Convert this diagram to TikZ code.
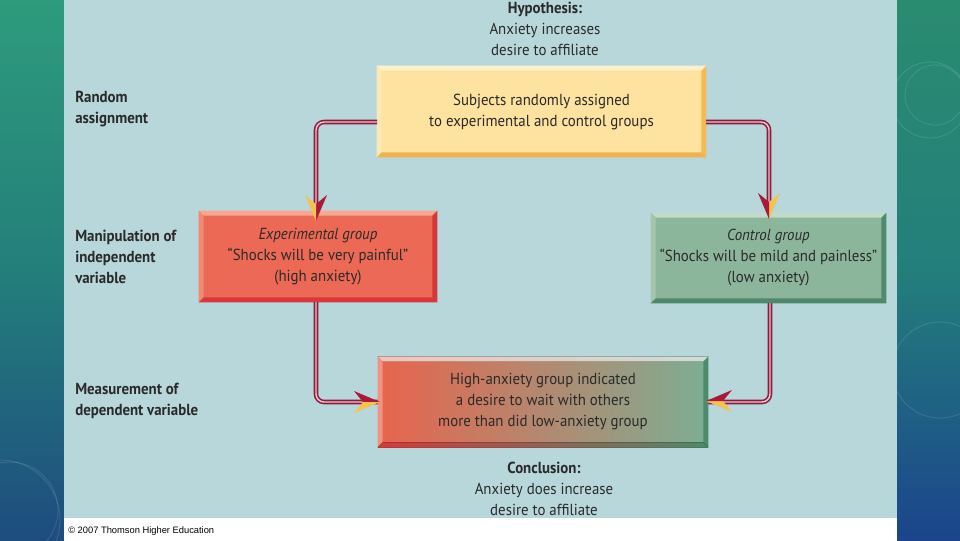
\documentclass[tikz,border=0pt]{standalone}
\usepackage{fontspec}
\setmainfont{PT Sans}[FakeStretch=0.93]
\newfontfamily\arialfont{Liberation Sans}
\usetikzlibrary{calc}
\definecolor{panel}{HTML}{B8D7DA}
\definecolor{txt}{HTML}{2A2A2A}
\definecolor{ymain}{HTML}{FDE2A0}
\definecolor{ytop}{HTML}{FFF0CC}
\definecolor{yleft}{HTML}{FCE8B5}
\definecolor{yright}{HTML}{F4BA55}
\definecolor{ybot}{HTML}{F1B24D}
\definecolor{emain}{HTML}{EC6A55}
\definecolor{etop}{HTML}{F8A890}
\definecolor{eleft}{HTML}{F28A72}
\definecolor{eright}{HTML}{D6373A}
\definecolor{ebot}{HTML}{D9383B}
\definecolor{cmain}{HTML}{8CB69B}
\definecolor{ctop}{HTML}{C2DBC8}
\definecolor{cleft}{HTML}{A5C5AD}
\definecolor{cright}{HTML}{4E8B6C}
\definecolor{cbot}{HTML}{4F896B}
\definecolor{bleft}{HTML}{E8644D}
\definecolor{bright}{HTML}{7DAE93}
\definecolor{conndark}{HTML}{8A1C3E}
\definecolor{conninner}{HTML}{EFC4CA}
\definecolor{ahred}{HTML}{A9193A}
\definecolor{ahyel}{HTML}{F3C24F}
\definecolor{sgreen}{HTML}{2E9B7C}
\definecolor{smid}{HTML}{237F7B}
\definecolor{sblue}{HTML}{1E4C7F}
\newlength\bevw
\setlength\bevw{3.75pt}
% bevel bands: #1 node, #2 top, #3 left, #4 right, #5 bottom
\newcommand\bevband[5]{%
  \fill[#2] (#1.north west) -- (#1.north east) -- ([xshift=-\bevw,yshift=-\bevw]#1.north east) -- ([xshift=\bevw,yshift=-\bevw]#1.north west) -- cycle;
  \fill[#3] (#1.north west) -- ([xshift=\bevw,yshift=-\bevw]#1.north west) -- ([xshift=\bevw,yshift=\bevw]#1.south west) -- (#1.south west) -- cycle;
  \fill[#4] (#1.north east) -- (#1.south east) -- ([xshift=-\bevw,yshift=\bevw]#1.south east) -- ([xshift=-\bevw,yshift=-\bevw]#1.north east) -- cycle;
  \fill[#5] (#1.south west) -- ([xshift=\bevw,yshift=\bevw]#1.south west) -- ([xshift=-\bevw,yshift=\bevw]#1.south east) -- (#1.south east) -- cycle;
}
% arrowhead: #1 tip, #2 rotation, #3 colour of half A, #4 colour of half B
\newcommand\ahd[4]{%
  \begin{scope}[shift={#1}, rotate=#2]
    \fill[#3] (0,0) -- (-26,-11) -- (-17,0) -- cycle;
    \fill[#4] (0,0) -- (-26,11) -- (-17,0) -- cycle;
  \end{scope}
}
\begin{document}
\begin{tikzpicture}[x=0.75pt, y=-0.75pt,
  every node/.style={text=txt, font=\fontsize{12}{15.75}\selectfont},
  boxtext/.style={inner sep=0pt, align=center, font=\fontsize{12}{15.75}\selectfont},
  lab/.style={inner sep=0pt, align=left, anchor=west, font=\bfseries\fontsize{12}{15.75}\selectfont},
  conn/.style={draw=conndark, line width=1.15pt, double=conninner, double distance=1.1pt, rounded corners=6pt}
]
\useasboundingbox (0,0) rectangle (960,540);
% side strips
\shade[top color=sgreen, bottom color=sblue, middle color=smid] (0,0) rectangle (64,540);
\shade[top color=sgreen!90!black, bottom color=sblue!90!blue, middle color=smid] (897,0) rectangle (960,540);
\begin{scope}[draw=white, opacity=0.13, line width=0.6pt]
  \draw (930,100) circle[radius=38];
  \draw (935,95) circle[radius=30];
  \draw (940,370) circle[radius=48];
  \draw (0,520) circle[radius=60];
  \draw (10,510) circle[radius=48];
\end{scope}
% panel
\fill[panel] (64,0) rectangle (897,518);
\fill[white] (64,518) rectangle (897,540);
\node[anchor=west, inner sep=0pt, font=\arialfont\fontsize{7}{8}\selectfont, text=black] (copy) at (68,531) {© 2007 Thomson Higher Education};

% boxes
\node[fill=ymain, minimum width=246.75pt, minimum height=68.25pt, inner sep=0pt] (top) at (541.5,111.5) {};
\bevband{top}{ytop}{yleft}{yright}{ybot}
\node[boxtext] (toptext) at (top.center) {Subjects randomly assigned\\to experimental and control groups};

\node[fill=emain, minimum width=178.5pt, minimum height=68.25pt, inner sep=0pt] (exp) at (318,256.5) {};
\bevband{exp}{etop}{eleft}{eright}{ebot}
\node[boxtext] (exptext) at (exp.center) {\textit{Experimental group}\\“Shocks will be very painful”\\(high anxiety)};

\node[fill=cmain, minimum width=176.25pt, minimum height=67.5pt, inner sep=0pt] (ctrl) at (768.5,258) {};
\bevband{ctrl}{ctop}{cleft}{cright}{cbot}
\node[boxtext] (ctrltext) at (ctrl.center) {\textit{Control group}\\“Shocks will be mild and painless”\\(low anxiety)};

\node[left color=bleft, right color=bright, minimum width=247.5pt, minimum height=67.5pt, inner sep=0pt] (bot) at (543,402) {};
\fill[left color=bleft!40!white, right color=bright!40!white] (bot.north west) -- (bot.north east) -- ([xshift=-\bevw,yshift=-\bevw]bot.north east) -- ([xshift=\bevw,yshift=-\bevw]bot.north west) -- cycle;
\fill[bleft!70!white] (bot.north west) -- ([xshift=\bevw,yshift=-\bevw]bot.north west) -- ([xshift=\bevw,yshift=\bevw]bot.south west) -- (bot.south west) -- cycle;
\fill[cright] (bot.north east) -- (bot.south east) -- ([xshift=-\bevw,yshift=\bevw]bot.south east) -- ([xshift=-\bevw,yshift=-\bevw]bot.north east) -- cycle;
\fill[left color=ebot, right color=cbot] (bot.south west) -- ([xshift=\bevw,yshift=\bevw]bot.south west) -- ([xshift=-\bevw,yshift=\bevw]bot.south east) -- (bot.south east) -- cycle;
\node[boxtext] (bottext) at (bot.center) {High-anxiety group indicated\\a desire to wait with others\\more than did low-anxiety group};

% connectors
\coordinate (tl) at (377,122);
\coordinate (tr) at (706,122);
\coordinate (el) at (316,302);
\coordinate (cl) at (770,303);
\draw[conn] (tl) -- (316,122) -- (316,212);
\draw[conn] (tr) -- (769,122) -- (769,212);
\draw[conn] (el) -- (316,402) -- (bot.west);
\draw[conn] (cl) -- (770,402) -- (bot.east);
\ahd{(316,221)}{-90}{ahred}{ahyel}
\ahd{(769,219)}{-90}{ahyel}{ahred}
\ahd{(380,402)}{0}{ahred}{ahyel}
\ahd{(706,401)}{180}{ahyel}{ahred}

% side labels
\node[lab] (lrand) at (75,109) {Random\\assignment};
\node[lab] (lmanip) at (75,256.5) {Manipulation of\\independent\\variable};
\node[lab] (lmeas) at (75,401) {Measurement of\\dependent variable};

% hypothesis / conclusion
\node[boxtext] (hyp) at (545,29) {\textbf{Hypothesis:}\\Anxiety increases\\desire to affiliate};
\node[boxtext] (concl) at (544,488.5) {\textbf{Conclusion:}\\Anxiety does increase\\desire to affiliate};
\end{tikzpicture}
\end{document}
